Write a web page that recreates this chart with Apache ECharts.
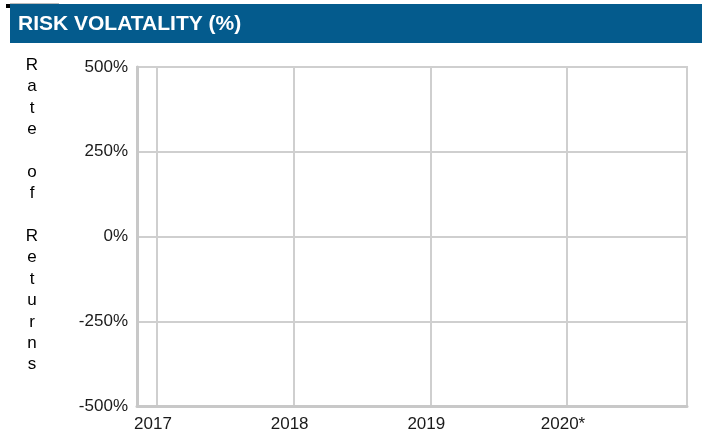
<!DOCTYPE html>
<html>
<head>
<meta charset="utf-8">
<script src="https://cdn.jsdelivr.net/npm/echarts@6/dist/echarts.min.js"></script>
<style>
html,body{margin:0;padding:0;background:#fff;}
#chart{width:702px;height:437px;}
</style>
</head>
<body>
<div id="chart"></div>
<script>
// Data
var years = [2017, 2018, 2019, 2020];
var yearLabels = ['2017', '2018', '2019', '2020*'];
var returns = [null, null, null, null]; // no values plotted in the reference
var yTickValues = [-500, -250, 0, 250, 500];
var chartTitle = 'RISK VOLATALITY (%)';
var yAxisTitle = 'Rate of Returns';

var chart = echarts.init(document.getElementById('chart'), null, {renderer: 'canvas'});

var FONT = '"Liberation Sans", Arial, sans-serif';
var gridColor = '#cfcfcf';

var option = {
  animation: false,
  backgroundColor: '#ffffff',
  graphic: [
    {type: 'rect', shape: {x: 10, y: 4, width: 692, height: 39}, style: {fill: '#045b8d'}, z: 1},
    {type: 'rect', shape: {x: 6, y: 4, width: 4, height: 4}, style: {fill: '#000'}, z: 2},
    {type: 'rect', shape: {x: 10, y: 3, width: 49, height: 1}, style: {fill: '#bbbbbb'}, z: 2},
    {type: 'text', x: 18, y: 24, style: {text: chartTitle, fill: '#ffffff', font: 'bold 21px ' + FONT, textVerticalAlign: 'middle'}, z: 3},
    {type: 'text', x: 32, y: 54.5, style: {
      text: yAxisTitle.split('').join('\n'), fill: '#000', font: '17px ' + FONT,
      lineHeight: 21.4, textAlign: 'center', textVerticalAlign: 'top'
    }, z: 3}
  ],
  grid: {
    left: 137, right: 15, top: 67, bottom: 31,
    show: true, borderColor: gridColor, borderWidth: 2, backgroundColor: 'transparent'
  },
  xAxis: {
    type: 'value',
    min: 2016.854,
    max: 2020.878,
    axisLine: {show: true, onZero: false, lineStyle: {color: '#c8c8c8', width: 3}},
    axisTick: {show: false, customValues: years},
    splitLine: {show: true, lineStyle: {color: gridColor, width: 2}},
    axisLabel: {
      color: '#1a1a1a',
      fontFamily: FONT,
      fontSize: 17,
      margin: 10,
      padding: [0, 8, 0, 0],
      customValues: years,
      formatter: function (v) {
        var i = years.indexOf(Math.round(v));
        return i >= 0 ? yearLabels[i] : '';
      }
    }
  },
  yAxis: {
    type: 'value',
    min: yTickValues[0],
    max: yTickValues[yTickValues.length - 1],
    interval: 250,
    axisLine: {show: true, lineStyle: {color: '#c8c8c8', width: 3}},
    axisTick: {show: false},
    splitLine: {show: true, lineStyle: {color: gridColor, width: 2}},
    axisLabel: {
      color: '#1a1a1a', fontFamily: FONT, fontSize: 17, margin: 9,
      padding: [4, 0, 0, 0],
      formatter: function (v) { return v + '%'; }
    }
  },
  series: [{
    type: 'line',
    data: years.map(function (y, i) { return [y, returns[i]]; }),
    showSymbol: false,
    lineStyle: {color: '#045b8d'}
  }]
};
chart.setOption(option);
</script>
</body>
</html>
